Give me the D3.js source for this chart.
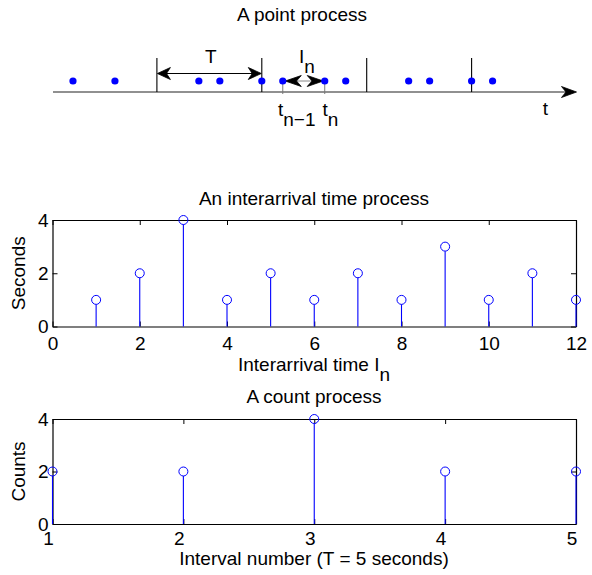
<!DOCTYPE html>
<html><head><meta charset="utf-8">
<script src="https://cdn.jsdelivr.net/npm/d3@7"></script>
<style>
body{margin:0;background:#fff}
svg text{font-family:"Liberation Sans",Arial,Helvetica,sans-serif;fill:#000}
</style>
</head><body>
<svg id="c" width="592" height="575"></svg>
<script>
// ---- data ----
const arrivalTimes = [1,3,7,8,10,11,13,14,17,18,20,21];
const intervalBounds = [5,10,15,20];
const interarrivalIdx = [1,2,3,4,5,6,7,8,9,10,11,12];
const interarrivalSec = [1,2,4,1,2,1,2,1,3,1,2,1];
const intervalNums = [1,2,3,4,5];
const counts = [2,2,4,2,2];
const midXTicks = [0,2,4,6,8,10,12];
const botXTicks = [1,2,3,4,5];
const yTicks = [0,2,4];
const titles = ["A point process","An interarrival time process","A count process"];
const FS = 19;

const svg = d3.select("#c");
const BLUE = "#0000ff";

function arrowHead(g, tipX, y, dir, len, half, color){
  // dir: +1 pointing right, -1 pointing left
  const bx = tipX - dir*len, nx = tipX - dir*len*0.7;
  g.append("path")
    .attr("d", `M${tipX},${y} L${bx},${y-half} L${nx},${y} L${bx},${y+half} Z`)
    .attr("fill", color).attr("stroke", color).attr("stroke-width", 0.8).attr("stroke-linejoin","miter");
}

// ---- panel 1: point process ----
const t = d3.scaleLinear().domain([0,25]).range([52,576.5]);
const p1 = svg.append("g");
const axisY = 92, dotY = 81;
p1.append("text").attr("x",302).attr("y",20.7).attr("text-anchor","middle").attr("font-size",FS).text(titles[0]);
p1.append("line").attr("x1",t(0)+1).attr("x2",t(25)-8).attr("y1",axisY).attr("y2",axisY)
  .attr("stroke","#222").attr("stroke-width",1.2);
arrowHead(p1, t(25), axisY, 1, 15, 5.5, "#000");
p1.selectAll("line.bound").data(intervalBounds).join("line").attr("class","bound")
  .attr("x1",d=>t(d)).attr("x2",d=>t(d)).attr("y1",58).attr("y2",axisY)
  .attr("stroke","#000").attr("stroke-width",1.1);
// T arrow
const Ty = 73.5;
p1.append("line").attr("x1",t(5)+6).attr("x2",t(10)-6).attr("y1",Ty).attr("y2",Ty).attr("stroke","#000").attr("stroke-width",1);
arrowHead(p1, t(5)+0.5, Ty, -1, 13, 6, "#000");
arrowHead(p1, t(10)-0.5, Ty, 1, 13, 6, "#000");
p1.append("text").attr("x",(t(5)+t(10))/2+1.5).attr("y",63).attr("text-anchor","middle").attr("font-size",FS).text("T");
// t_{n-1}, t_n guides
const tn1 = arrivalTimes[5], tn = arrivalTimes[6];
p1.selectAll("line.guide").data([tn1,tn]).join("line").attr("class","guide")
  .attr("x1",d=>t(d)).attr("x2",d=>t(d)).attr("y1",dotY).attr("y2",axisY+2)
  .attr("stroke","#777").attr("stroke-width",1);
// I_n arrow
p1.append("line").attr("x1",t(tn1)).attr("x2",t(tn)).attr("y1",dotY).attr("y2",dotY).attr("stroke","#888").attr("stroke-width",1);
arrowHead(p1, t(tn1)+2.5, dotY, -1, 16, 5.5, "#000");
arrowHead(p1, t(tn)-1.5, dotY, 1, 16, 5.5, "#000");
// dots
p1.selectAll("circle").data(arrivalTimes).join("circle")
  .attr("cx",d=>t(d)).attr("cy",dotY).attr("r",3.6).attr("fill",BLUE);
// labels
const In = p1.append("text").attr("x",299).attr("y",62.7).attr("font-size",FS);
In.append("tspan").text("I");
In.append("tspan").attr("dy",10).text("n");
const l1 = p1.append("text").attr("x",278).attr("y",116).attr("font-size",FS);
l1.append("tspan").text("t");
l1.append("tspan").attr("dy",10).text("n\u22121");
const l2 = p1.append("text").attr("x",322.5).attr("y",116).attr("font-size",FS);
l2.append("tspan").text("t");
l2.append("tspan").attr("dy",10).text("n");
p1.append("text").attr("x",545.5).attr("y",115).attr("text-anchor","middle").attr("font-size",FS).text("t");

// ---- stem panel helper ----
function stemPanel(opts){
  const {x, y, xs, ys, xTicks, title, titleY, xlabel, xlabelY, ylabel, labelShift, pad} = opts;
  const g = svg.append("g");
  const [x0,x1] = x.range(), [y0,y1] = y.range();
  const styleAxis = a => { a.attr("font-size",FS).attr("font-family",null);
    a.selectAll("path.domain").attr("stroke","#000").attr("stroke-width",1.2);
    a.selectAll(".tick line").attr("stroke","#000"); a.selectAll("text").attr("fill","#000"); };
  g.append("g").attr("transform",`translate(0,${y0})`)
    .call(d3.axisBottom(x).tickValues(xTicks).tickSizeInner(-5).tickSizeOuter(0).tickPadding(pad).tickFormat(d3.format("d")))
    .call(styleAxis).call(a=>a.selectAll("text").attr("dx",labelShift));
  g.append("g").attr("transform",`translate(0,${y1})`)
    .call(d3.axisTop(x).tickValues(xTicks).tickSizeInner(-5).tickSizeOuter(0).tickFormat(""))
    .call(styleAxis);
  g.append("g").attr("transform",`translate(${x0},0)`)
    .call(d3.axisLeft(y).tickValues(yTicks).tickSizeInner(-5).tickSizeOuter(0).tickPadding(4).tickFormat(d3.format("d")))
    .call(styleAxis);
  g.append("g").attr("transform",`translate(${x1},0)`)
    .call(d3.axisRight(y).tickValues(yTicks).tickSizeInner(-5).tickSizeOuter(0).tickFormat(""))
    .call(styleAxis);
  const data = xs.map((v,i)=>({x:v,y:ys[i]}));
  g.selectAll("line.stem").data(data).join("line").attr("class","stem")
    .attr("x1",d=>x(d.x)).attr("x2",d=>x(d.x)).attr("y1",y(0)).attr("y2",d=>y(d.y)+4.5)
    .attr("stroke",BLUE).attr("stroke-width",1.1);
  g.selectAll("circle").data(data).join("circle")
    .attr("cx",d=>x(d.x)).attr("cy",d=>y(d.y)).attr("r",4.5)
    .attr("fill","none").attr("stroke",BLUE).attr("stroke-width",1);
  g.append("text").attr("x",314).attr("y",titleY).attr("text-anchor","middle").attr("font-size",FS).text(title);
  const xl = g.append("text").attr("x",314).attr("y",xlabelY).attr("text-anchor","middle").attr("font-size",FS);
  xlabel(xl);
  g.append("text").attr("transform",`translate(25,${(y0+y1)/2}) rotate(-90)`).attr("text-anchor","middle").attr("font-size",FS).text(ylabel);
}

stemPanel({
  x: d3.scaleLinear().domain([0,12]).range([52.5,576]),
  y: d3.scaleLinear().domain([0,4]).range([326.5,220]),
  xs: interarrivalIdx, ys: interarrivalSec, xTicks: midXTicks,
  title: titles[1], titleY: 205,
  xlabel: s => { s.append("tspan").text("Interarrival time I"); s.append("tspan").attr("dy",10).text("n"); },
  xlabelY: 370.7, ylabel: "Seconds", labelShift: 0, pad: 10
});
stemPanel({
  x: d3.scaleLinear().domain([1,5]).range([52.5,576]),
  y: d3.scaleLinear().domain([0,4]).range([524,419]),
  xs: intervalNums, ys: counts, xTicks: botXTicks,
  title: titles[2], titleY: 403.3,
  xlabel: s => s.text("Interval number (T = 5 seconds)"),
  xlabelY: 565, ylabel: "Counts", labelShift: -4.5, pad: 8
});
</script>
</body></html>
